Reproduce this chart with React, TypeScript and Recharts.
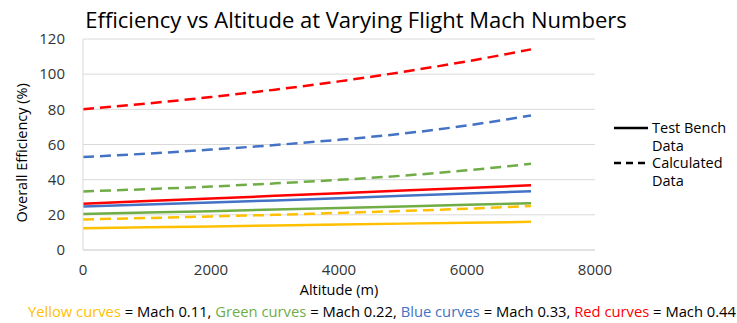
import React from "react";
import { LineChart, Line, XAxis, YAxis, CartesianGrid } from "recharts";

const altitudes = [0, 1000, 2000, 3000, 4000, 5000, 6000, 7000];

// Test bench data (solid)
const yellowTest = [12.4, 12.9, 13.4, 13.9, 14.5, 15.0, 15.5, 16.0];
const greenTest = [20.5, 21.3, 22.1, 23.0, 23.9, 24.8, 25.7, 26.6];
const blueTest = [24.7, 25.9, 27.0, 28.2, 29.5, 30.8, 32.1, 33.4];
const redTest = [26.3, 27.8, 29.3, 30.8, 32.3, 33.8, 35.3, 36.8];

// Calculated data (dashed)
const yellowCalc = [17.4, 18.2, 19.1, 20.0, 21.1, 22.2, 23.5, 25.0];
const greenCalc = [33.3, 34.6, 36.1, 37.9, 39.9, 42.3, 45.3, 49.0];
const blueCalc = [52.9, 54.8, 57.1, 59.7, 62.7, 66.2, 70.8, 76.5];
const redCalc = [80.0, 83.3, 87.0, 91.2, 95.9, 101.3, 107.3, 114.1];

const xTicks = [0, 2000, 4000, 6000, 8000];
const yTicks = [0, 20, 40, 60, 80, 100, 120];

const data = altitudes.map((alt, i) => ({
  alt,
  yellowTest: yellowTest[i],
  greenTest: greenTest[i],
  blueTest: blueTest[i],
  redTest: redTest[i],
  yellowCalc: yellowCalc[i],
  greenCalc: greenCalc[i],
  blueCalc: blueCalc[i],
  redCalc: redCalc[i],
}));

const YELLOW = "#FFC000";
const GREEN = "#70AD47";
const BLUE = "#4472C4";
const RED = "#FF0000";

const font = "'Open Sans', sans-serif";
const textColor = "#333";

const App: React.FC = () => {
  const dash = "11 6";
  return (
    <div style={{ position: "absolute", left: 0, top: 0, width: 737, height: 323, background: "#fff", fontFamily: font }}>
      <div style={{ position: "absolute", left: 0, width: 712, top: 4, textAlign: "center", fontSize: 22, color: "#000", whiteSpace: "nowrap" }}>
        Efficiency vs Altitude at Varying Flight Mach Numbers
      </div>
      <LineChart width={737} height={323} data={data} margin={{ top: 39, right: 142, bottom: 43, left: 0 }}>
        <CartesianGrid horizontal vertical={false} stroke="#d9d9d9" />
        <XAxis
          dataKey="alt"
          type="number"
          domain={[0, 8000]}
          ticks={xTicks}
          tickLine={false}
          axisLine={{ stroke: "#d9d9d9" }}
          tick={{ fill: textColor, fontSize: 15, fontFamily: font }}
          tickMargin={8}
          label={{ value: "Altitude (m)", position: "insideBottom", offset: -15, fill: "#000", fontSize: 14.5, fontFamily: font }}
        />
        <YAxis
          type="number"
          domain={[0, 120]}
          ticks={yTicks}
          width={83}
          tickLine={false}
          axisLine={{ stroke: "#d9d9d9" }}
          tick={{ fill: textColor, fontSize: 15, fontFamily: font }}
          tickMargin={12}
          label={{ value: "Overall Efficiency (%)", angle: -90, position: "insideLeft", offset: 22, dy: 78, fill: "#000", fontSize: 14.5, fontFamily: font }}
        />
        <Line dataKey="yellowTest" stroke={YELLOW} strokeWidth={2.5} dot={false} isAnimationActive={false} />
        <Line dataKey="greenTest" stroke={GREEN} strokeWidth={2.5} dot={false} isAnimationActive={false} />
        <Line dataKey="blueTest" stroke={BLUE} strokeWidth={2.5} dot={false} isAnimationActive={false} />
        <Line dataKey="redTest" stroke={RED} strokeWidth={2.5} dot={false} isAnimationActive={false} />
        <Line type="monotone" dataKey="yellowCalc" stroke={YELLOW} strokeWidth={2.5} strokeDasharray={dash} dot={false} isAnimationActive={false} />
        <Line type="monotone" dataKey="greenCalc" stroke={GREEN} strokeWidth={2.5} strokeDasharray={dash} dot={false} isAnimationActive={false} />
        <Line type="monotone" dataKey="blueCalc" stroke={BLUE} strokeWidth={2.5} strokeDasharray={dash} dot={false} isAnimationActive={false} />
        <Line type="monotone" dataKey="redCalc" stroke={RED} strokeWidth={2.5} strokeDasharray={dash} dot={false} isAnimationActive={false} />
      </LineChart>
      <div style={{ position: "absolute", left: 614, top: 119, fontSize: 14.5, lineHeight: "17.5px", color: "#000" }}>
        <div style={{ display: "flex", alignItems: "center" }}>
          <svg width={38} height={6}><line x1={0} y1={3} x2={34} y2={3} stroke="#000" strokeWidth={2.5} /></svg>
          <span>Test Bench</span>
        </div>
        <div style={{ paddingLeft: 38 }}>Data</div>
        <div style={{ display: "flex", alignItems: "center" }}>
          <svg width={38} height={6}><line x1={0} y1={3} x2={34} y2={3} stroke="#000" strokeWidth={2.5} strokeDasharray="7 5" /></svg>
          <span>Calculated</span>
        </div>
        <div style={{ paddingLeft: 38 }}>Data</div>
      </div>
      <div style={{ position: "absolute", left: 28, top: 302, fontSize: 14.75, lineHeight: "18px", color: "#000", whiteSpace: "nowrap" }}>
        <span style={{ color: YELLOW }}>Yellow curves</span> = Mach 0.11,{" "}
        <span style={{ color: GREEN }}>Green curves</span> = Mach 0.22,{" "}
        <span style={{ color: BLUE }}>Blue curves</span> = Mach 0.33,{" "}
        <span style={{ color: RED }}>Red curves</span> = Mach 0.44
      </div>
    </div>
  );
};

export default App;
